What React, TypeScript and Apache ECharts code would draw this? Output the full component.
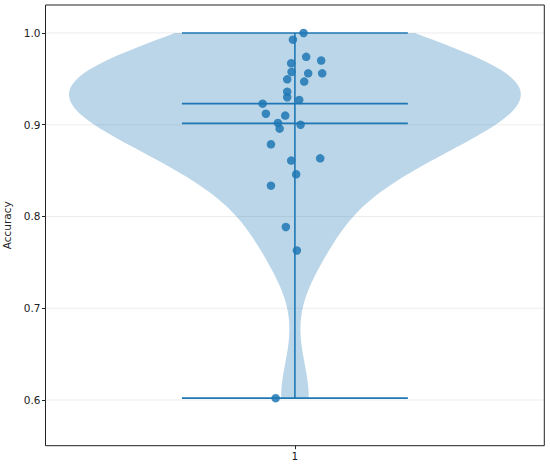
import React, { useEffect, useRef } from "react";
import * as echarts from "echarts";

const accuracy = [
  1.0, 0.9927, 0.974, 0.97, 0.967, 0.9575, 0.956, 0.956, 0.9495, 0.947,
  0.936, 0.93, 0.927, 0.923, 0.912, 0.91, 0.902, 0.9, 0.8957, 0.8787,
  0.8634, 0.8609, 0.846, 0.8336, 0.7886, 0.763, 0.602,
];
const jitter = [
  0.0096, -0.0022, 0.0125, 0.0291, -0.0041, -0.0037, 0.0147, 0.0302, -0.0085, 0.0103,
  -0.0085, -0.0085, 0.0048, -0.0357, -0.0321, -0.0107, -0.0188, 0.0063, -0.0169, -0.0265,
  0.028, -0.0041, 0.0014, -0.0265, -0.01, 0.0022, -0.0213,
];
const yTicks = [0.6, 0.7, 0.8, 0.9, 1.0];
const xTicks = [1];
const position = 1;
const violinWidth = 0.5;

const C0 = "#1f77b4";

// Gaussian KDE (Scott's rule), as matplotlib's violinplot does
const n = accuracy.length;
const mean = accuracy.reduce((a, b) => a + b, 0) / n;
const sorted = [...accuracy].sort((a, b) => a - b);
const median = n % 2 ? sorted[(n - 1) / 2] : (sorted[n / 2 - 1] + sorted[n / 2]) / 2;
const vmin = sorted[0];
const vmax = sorted[n - 1];
const variance = accuracy.reduce((s, v) => s + (v - mean) ** 2, 0) / (n - 1);
const bw = Math.sqrt(variance) * Math.pow(n, -0.2);
const evalPts: number[] = [];
for (let i = 0; i < 100; i++) evalPts.push(vmin + ((vmax - vmin) * i) / 99);
const dens = evalPts.map((y) =>
  accuracy.reduce((s, v) => s + Math.exp(-0.5 * ((y - v) / bw) ** 2), 0)
);
const dmax = Math.max(...dens);
const halfW = dens.map((d) => (0.5 * violinWidth * d) / dmax);

const xMin = 0.724;
const xMax = 1.276;
const yMin = 0.5502;
const yMax = 1.0305;

export default function App() {
  const ref = useRef<HTMLDivElement>(null);
  useEffect(() => {
    document.body.style.margin = "0";
    const chart = echarts.init(ref.current!, null, { renderer: "svg" });
    const lw = violinWidth * 0.25;
    const segs = [
      [position - lw, vmin, position + lw, vmin],
      [position - lw, vmax, position + lw, vmax],
      [position - lw, mean, position + lw, mean],
      [position - lw, median, position + lw, median],
      [position, vmin, position, vmax],
    ];
    chart.setOption({
      animation: false,
      grid: {
        left: 45.5,
        right: 5.7,
        top: 5,
        bottom: 21.3,
        outerBoundsMode: "none",
        containLabel: false,
        show: true,
        borderColor: "#222",
        borderWidth: 1,
        backgroundColor: "transparent",
      },
      xAxis: {
        type: "value",
        min: xMin,
        max: xMax,
        axisLine: { show: false },
        splitLine: { show: false },
        axisTick: {
          show: true,
          customValues: xTicks,
          length: 3.5,
          lineStyle: { color: "#222", width: 1 },
        },
        axisLabel: {
          customValues: xTicks,
          formatter: (v: number) => String(v),
          color: "#222",
          fontFamily: "DejaVu Sans",
          fontSize: 10.5,
          margin: 5,
        },
      },
      yAxis: {
        type: "value",
        min: yMin,
        max: yMax,
        name: "Accuracy",
        nameLocation: "middle",
        nameRotate: 90,
        nameGap: 30.5,
        nameTextStyle: { fontFamily: "DejaVu Sans", fontSize: 10.5, color: "#222" },
        axisLine: { show: false },
        splitLine: { show: false },
        axisTick: {
          show: true,
          customValues: yTicks,
          length: 3.5,
          lineStyle: { color: "#222", width: 1 },
        },
        axisLabel: {
          customValues: yTicks,
          formatter: (v: number) => v.toFixed(1),
          color: "#222",
          fontFamily: "DejaVu Sans",
          fontSize: 10.5,
          margin: 5,
        },
      },
      series: [
        {
          type: "custom",
          z: 1,
          silent: true,
          data: yTicks.map((v) => [xMin, v]),
          renderItem: (_p: any, api: any) => {
            const v = api.value(1);
            const a = api.coord([xMin, v]);
            const b = api.coord([xMax, v]);
            return {
              type: "line",
              shape: { x1: a[0], y1: a[1], x2: b[0], y2: b[1] },
              style: { stroke: "#b0b0b0", lineWidth: 0.8, opacity: 0.3 },
            };
          },
        },
        {
          type: "custom",
          z: 2,
          silent: true,
          data: [[position, median]],
          renderItem: (_p: any, api: any) => {
            const pts: number[][] = [];
            for (let i = 0; i < evalPts.length; i++)
              pts.push(api.coord([position + halfW[i], evalPts[i]]));
            for (let i = evalPts.length - 1; i >= 0; i--)
              pts.push(api.coord([position - halfW[i], evalPts[i]]));
            return {
              type: "polygon",
              shape: { points: pts },
              style: { fill: "rgba(31,119,180,0.3)", stroke: "none" },
            };
          },
        },
        {
          type: "custom",
          z: 3,
          silent: true,
          data: segs,
          renderItem: (_p: any, api: any) => {
            const a = api.coord([api.value(0), api.value(1)]);
            const b = api.coord([api.value(2), api.value(3)]);
            return {
              type: "line",
              shape: { x1: a[0], y1: a[1], x2: b[0], y2: b[1] },
              style: { stroke: C0, lineWidth: 1.6 },
            };
          },
        },
        {
          type: "scatter",
          z: 4,
          silent: true,
          symbolSize: 8.5,
          itemStyle: { color: C0, opacity: 0.85 },
          data: accuracy.map((v, i) => [position + jitter[i], v]),
        },
      ],
    });
    return () => chart.dispose();
  }, []);
  return <div ref={ref} style={{ width: 550, height: 467 }} />;
}
